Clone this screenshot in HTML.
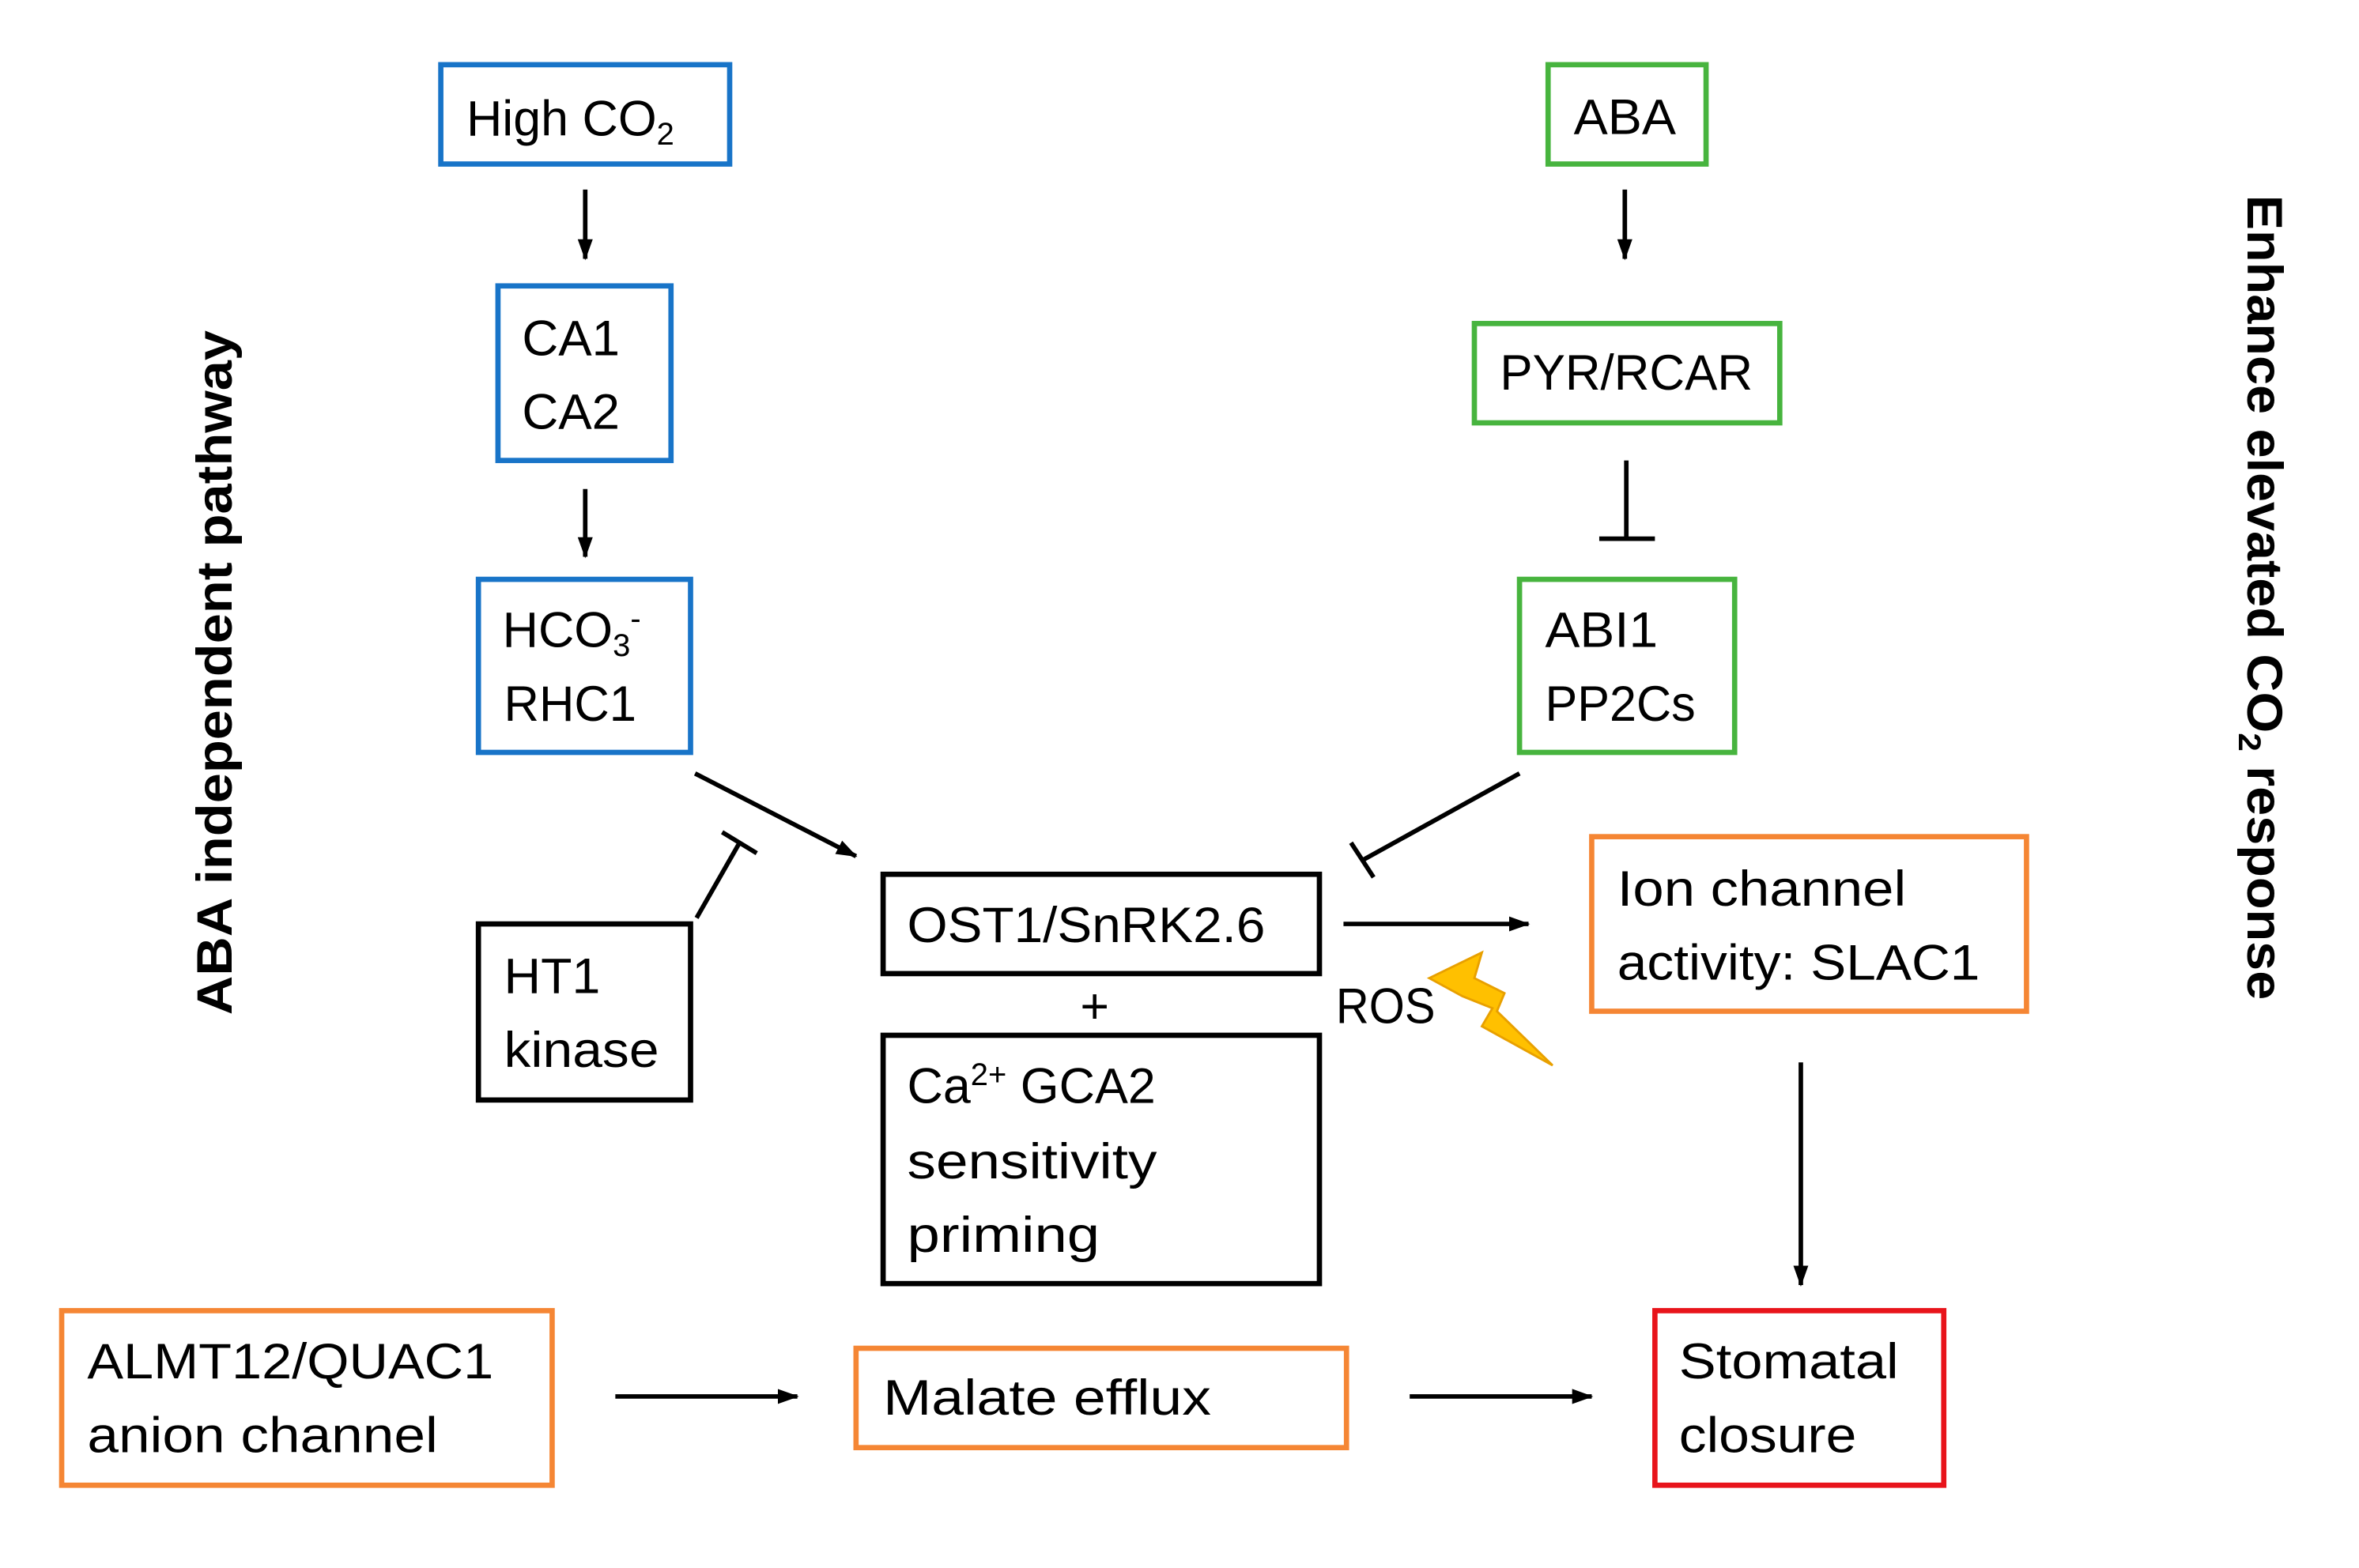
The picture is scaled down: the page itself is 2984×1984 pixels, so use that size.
<!DOCTYPE html>
<html><head><meta charset="utf-8"><style>
html,body{margin:0;padding:0;background:#fff}
svg{display:block}
text{font-family:"Liberation Sans",sans-serif;font-size:33px;fill:#000}
</style></head><body>
<svg width="2984" height="1984" viewBox="0 0 1568 1042" preserveAspectRatio="none" xmlns="http://www.w3.org/2000/svg">
<defs>
<marker id="ah" markerWidth="14" markerHeight="12" refX="13" refY="6" orient="auto" markerUnits="userSpaceOnUse">
<path d="M0,1 L14,6 L0,11 Z" fill="#000"/></marker>
</defs>
<g fill="none" stroke-width="3.5">
<rect x="293" y="43" width="192" height="66" stroke="#1874C8"/>
<rect x="331" y="190" width="115" height="116" stroke="#1874C8"/>
<rect x="318" y="385" width="141" height="115" stroke="#1874C8"/>
<rect x="1029" y="43" width="105" height="66" stroke="#47B43E"/>
<rect x="980" y="215" width="203" height="66" stroke="#47B43E"/>
<rect x="1010" y="385" width="143" height="115" stroke="#47B43E"/>
<rect x="318" y="614" width="141" height="117" stroke="#000"/>
<rect x="587" y="581" width="290" height="66" stroke="#000"/>
<rect x="587" y="688" width="290" height="165" stroke="#000"/>
<rect x="1058" y="556" width="289" height="116" stroke="#F58634"/>
<rect x="41" y="871" width="326" height="116" stroke="#F58634"/>
<rect x="569" y="896" width="326" height="66" stroke="#F58634"/>
<rect x="1100" y="871" width="192" height="116" stroke="#E8141B"/>
</g>
<g stroke="#000" stroke-width="3" fill="none">
<line x1="389" y1="126" x2="389" y2="172" marker-end="url(#ah)"/>
<line x1="389" y1="325" x2="389" y2="370" marker-end="url(#ah)"/>
<line x1="1080" y1="126" x2="1080" y2="172" marker-end="url(#ah)"/>
<line x1="1081" y1="306" x2="1081" y2="358"/>
<line x1="1063" y1="358" x2="1100" y2="358"/>
<line x1="462" y1="514" x2="569" y2="569" marker-end="url(#ah)"/>
<line x1="1010" y1="514" x2="905" y2="572"/>
<line x1="898" y1="560" x2="913" y2="583"/>
<line x1="463" y1="610" x2="491" y2="561"/>
<line x1="480" y1="553" x2="503" y2="567"/>
<line x1="893" y1="614" x2="1016" y2="614" marker-end="url(#ah)"/>
<line x1="1197" y1="706" x2="1197" y2="854" marker-end="url(#ah)"/>
<line x1="409" y1="928" x2="530" y2="928" marker-end="url(#ah)"/>
<line x1="937" y1="928" x2="1058" y2="928" marker-end="url(#ah)"/>
</g>
<path d="M950,650 L985,633 L980,650 L1000,660 L995,672 L1032,708 L985,682 L992,670 L972,662 Z" fill="#FFC000" stroke="#E8A000" stroke-width="1.5"/>
<text x="310" y="90">High CO<tspan font-size="21" dy="6">2</tspan></text>
<text x="347" y="236" textLength="65" lengthAdjust="spacingAndGlyphs">CA1</text>
<text x="347" y="285" textLength="65" lengthAdjust="spacingAndGlyphs">CA2</text>
<text x="334" y="430">HCO<tspan font-size="21" dy="6">3</tspan><tspan font-size="21" dy="-18">-</tspan></text>
<text x="335" y="479" textLength="88" lengthAdjust="spacingAndGlyphs">RHC1</text>
<text x="1046" y="89" textLength="68" lengthAdjust="spacingAndGlyphs">ABA</text>
<text x="997" y="259" textLength="168" lengthAdjust="spacingAndGlyphs">PYR/RCAR</text>
<text x="1027" y="430" textLength="75" lengthAdjust="spacingAndGlyphs">ABI1</text>
<text x="1027" y="479" textLength="100" lengthAdjust="spacingAndGlyphs">PP2Cs</text>
<text x="335" y="660" textLength="64" lengthAdjust="spacingAndGlyphs">HT1</text>
<text x="335" y="709" textLength="103" lengthAdjust="spacingAndGlyphs">kinase</text>
<text x="603" y="626" textLength="238" lengthAdjust="spacingAndGlyphs">OST1/SnRK2.6</text>
<text x="718" y="680">+</text>
<text x="603" y="733">Ca<tspan font-size="21" dy="-12">2+</tspan><tspan dy="12"> GCA2</tspan></text>
<text x="603" y="783" textLength="166" lengthAdjust="spacingAndGlyphs">sensitivity</text>
<text x="603" y="832" textLength="128" lengthAdjust="spacingAndGlyphs">priming</text>
<text x="888" y="680" textLength="66" lengthAdjust="spacingAndGlyphs">ROS</text>
<text x="1075" y="602" textLength="192" lengthAdjust="spacingAndGlyphs">Ion channel</text>
<text x="1075" y="651" textLength="241" lengthAdjust="spacingAndGlyphs">activity: SLAC1</text>
<text x="58" y="916" textLength="270" lengthAdjust="spacingAndGlyphs">ALMT12/QUAC1</text>
<text x="58" y="965" textLength="233" lengthAdjust="spacingAndGlyphs">anion channel</text>
<text x="587" y="940" textLength="218" lengthAdjust="spacingAndGlyphs">Malate efflux</text>
<text x="1116" y="916" textLength="146" lengthAdjust="spacingAndGlyphs">Stomatal</text>
<text x="1116" y="965" textLength="118" lengthAdjust="spacingAndGlyphs">closure</text>
<text transform="translate(154,447) rotate(-90)" text-anchor="middle" font-weight="bold" font-size="33" textLength="455" lengthAdjust="spacingAndGlyphs">ABA independent pathway</text>
<text transform="translate(1494,397) rotate(90)" text-anchor="middle" font-weight="bold" font-size="34" textLength="535" lengthAdjust="spacingAndGlyphs">Enhance elevated CO<tspan font-size="21" dy="6">2</tspan><tspan dy="-6"> response</tspan></text>
</svg>
</body></html>
